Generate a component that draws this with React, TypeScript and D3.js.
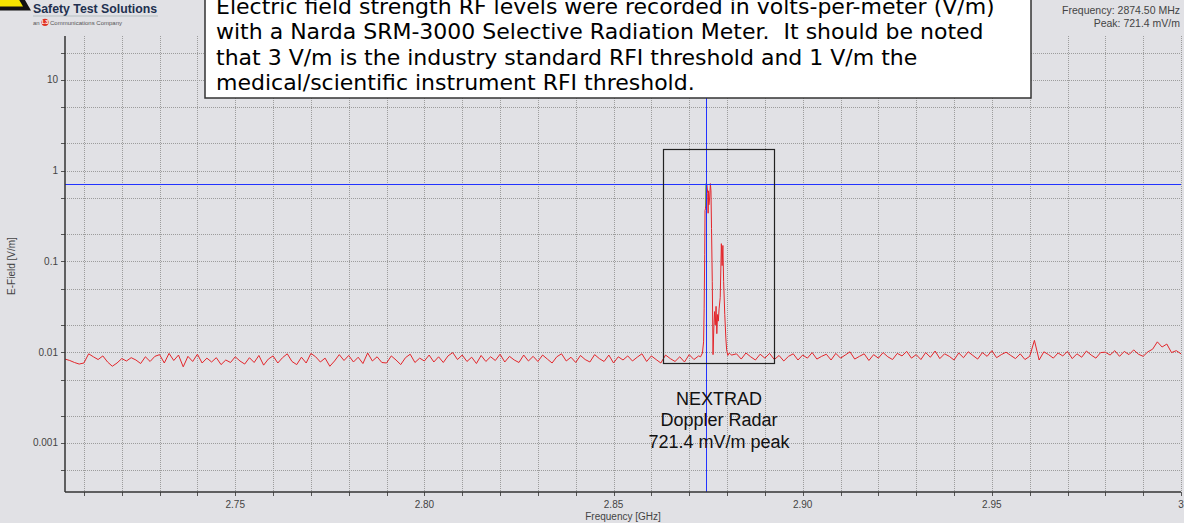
import React from "react";
import * as d3 from "d3";

// ---------- data ----------
const X_DOMAIN: [number, number] = [2.705, 3.0];
const Y_DOMAIN: [number, number] = [0.000288, 30.5];

const xMajorTicks = [2.75, 2.8, 2.85, 2.9, 2.95, 3.0];
const xMajorLabels = ["2.75", "2.80", "2.85", "2.90", "2.95", "3"];
const xMinorTicks = d3.range(271, 301).map((v) => v / 100);

const yMajorTicks = [10, 1, 0.1, 0.01, 0.001];
const yMajorLabels = ["10", "1", "0.1", "0.01", "0.001"];
const yMinorTicks = [20, 5, 2, 0.5, 0.2, 0.05, 0.02, 0.005, 0.002, 0.0005];

// noise floor trace, mV/m, sampled every 1.25 MHz from 2.705 GHz
const NOISE_START = 2.705;
const NOISE_STEP = 0.00125;
const noiseMv = [
  8.4, 8.1, 7.7, 7.4, 7.6, 9.6, 8.9, 8.3, 9.1, 7.8, 7.0, 7.6, 8.5, 8.0, 8.7, 8.2, 7.5, 8.9, 7.9, 9.0,
  9.4, 7.6, 9.7, 8.1, 9.3, 6.9, 9.0, 7.9, 9.5, 7.6, 8.6, 7.8, 8.7, 7.3, 8.2, 7.7, 8.9, 8.0, 7.4, 8.7,
  7.7, 9.2, 7.2, 8.4, 9.1, 7.6, 8.7, 9.6, 7.9, 7.3, 8.8, 7.6, 9.7, 8.9, 7.8, 8.6, 7.0, 8.0, 9.4, 8.1,
  9.2, 7.8, 8.8, 7.5, 9.8, 8.0, 8.9, 7.7, 7.6, 9.1, 8.2, 7.3, 8.7, 9.5, 7.7, 8.6, 8.0, 9.3, 7.8, 8.9,
  7.7, 9.1, 9.9, 8.3, 9.3, 7.9, 8.8, 7.5, 9.2, 7.9, 8.9, 8.1, 9.5, 7.8, 9.0, 8.2, 7.7, 9.3, 8.0, 9.0,
  7.9, 9.3, 8.4, 7.6, 8.9, 9.6, 8.0, 8.8, 7.7, 9.2, 8.3, 7.8, 9.4, 8.5, 7.9, 9.3, 7.6, 8.9, 8.2, 9.1,
  8.0, 8.8, 9.6, 7.9, 9.1, 8.3, 7.6, 9.3, 8.5, 7.9, 8.9, 7.8, 9.4, 8.3, 9.1, 8.0, 8.6, 9.2, 9.6, 8.5,
  8.7, 9.3, 9.6, 8.4, 9.8, 8.9, 8.2, 9.5, 8.6, 9.7, 8.3, 9.2, 8.0, 9.0, 9.6, 8.2, 9.3, 8.6, 9.9, 8.4,
  9.0, 9.5, 8.2, 9.7, 8.6, 9.3, 10.1, 8.4, 9.0, 9.6, 8.1, 9.4, 8.6, 9.9, 8.9, 8.3, 9.7, 9.1, 10.2, 8.6,
  9.4, 8.3, 9.9, 8.8, 10.3, 8.5, 9.6, 9.0, 8.2, 9.8, 8.7, 10.1, 9.2, 8.4, 9.9, 9.0, 10.4, 8.7, 9.4, 10.0,
  9.2, 8.5, 9.6, 8.3, 9.0, 13.5, 8.2, 10.1, 9.4, 8.6, 9.8, 9.1, 10.2, 8.5, 9.6, 8.8, 10.3, 9.3, 8.6, 9.9,
  10.0, 9.3, 10.4, 9.0, 10.2, 9.4, 10.6, 9.5, 9.0, 10.1, 10.8, 13.0, 11.4, 12.3, 9.9, 10.4, 9.6,
];

// radar emission detail, GHz / mV/m
const peakFreq = [
  2.873, 2.8735, 2.8738, 2.87395, 2.8741, 2.87418, 2.8743, 2.87445, 2.87455, 2.8747, 2.8749, 2.875,
  2.8751, 2.8752, 2.8754, 2.8756, 2.87575, 2.8759, 2.8761, 2.8763, 2.8765, 2.8767, 2.8769, 2.8771,
  2.8773, 2.8775, 2.8777, 2.8779, 2.8782, 2.8785, 2.8787, 2.8789, 2.8791, 2.8794, 2.8797, 2.8799,
  2.8802, 2.8806, 2.881,
];
const peakMv = [
  8.9, 9.8, 13, 30, 120, 365, 380, 650, 721.4, 690, 560, 340,
  600, 420, 500, 721, 600, 230, 60, 9.4, 18, 28, 20, 32,
  16, 26, 22, 30, 40, 157, 90, 150, 60, 26, 14, 10.6,
  9.2, 9.8, 9.4,
];

// max-hold highlight at the peak
const holdFreq = [2.8745, 2.8745];
const holdMv = [400, 721.4];

const markerFreq = 2.8745;
const markerLevel = 0.7214;
const boxFreq: [number, number] = [2.8632, 2.8926];
const boxLevel: [number, number] = [0.00768, 1.73];

const noteLines = [
  "Electric field strength RF levels were recorded in volts-per-meter (V/m)",
  "with a Narda SRM-3000 Selective Radiation Meter.  It should be noted",
  "that 3 V/m is the industry standard RFI threshold and 1 V/m the",
  "medical/scientific instrument RFI threshold.",
];
const calloutLines = ["NEXTRAD", "Doppler Radar", "721.4 mV/m peak"];
const headerLines = ["Frequency: 2874.50 MHz", "Peak: 721.4 mV/m"];

// ---------- layout ----------
const W = 1184;
const H = 523;
const L = 65;
const R = 1181;
const T = 36;
const B = 492;
const SANS = "'Liberation Sans', Arial, sans-serif";
const snap = (v: number) => Math.round(v) + 0.5;

export default function App() {
  const x = d3.scaleLinear().domain(X_DOMAIN).range([L, R]);
  const y = d3.scaleLog().domain(Y_DOMAIN).range([B, T]);

  const noisePts: [number, number][] = noiseMv
    .map((v, i) => [NOISE_START + i * NOISE_STEP, v / 1000] as [number, number])
    .filter(([f]) => f < 2.8728 || f > 2.8811);
  const peakPts: [number, number][] = peakFreq.map((f, i) => [f, peakMv[i] / 1000]);
  const all = [...noisePts, ...peakPts].sort((a, b) => a[0] - b[0]);

  const line = d3
    .line<[number, number]>()
    .x((d) => x(d[0]))
    .y((d) => y(d[1]));

  const holdPts: [number, number][] = holdFreq.map((f, i) => [f, holdMv[i] / 1000]);

  const gridColor = "#9c9c9c";
  const my = snap(y(markerLevel));
  const mx = snap(x(markerFreq));

  return (
    <div style={{ position: "absolute", left: 0, top: 0 }}>
      <svg width={W} height={H} style={{ display: "block", background: "#e1e1e5" }}>
        <defs>
          <clipPath id="plot">
            <rect x={L} y={T} width={R - L} height={B - T} />
          </clipPath>
        </defs>

        {/* grid */}
        {xMinorTicks.map((f) => (
          <line key={"gx" + f} x1={snap(x(f))} x2={snap(x(f))} y1={T} y2={B} stroke={gridColor} strokeWidth={1} strokeDasharray="1,1" />
        ))}
        {[...yMajorTicks, ...yMinorTicks].map((v) => (
          <line key={"gy" + v} x1={L} x2={R} y1={snap(y(v))} y2={snap(y(v))} stroke={gridColor} strokeWidth={1} strokeDasharray="1,1" />
        ))}

        {/* axis ticks */}
        {xMinorTicks.map((f) => (
          <line key={"tx" + f} x1={snap(x(f))} x2={snap(x(f))} y1={B} y2={B + 4} stroke="#555" strokeWidth={1} />
        ))}
        {[...yMajorTicks, ...yMinorTicks].map((v) => (
          <line key={"ty" + v} x1={L - 4} x2={L} y1={snap(y(v))} y2={snap(y(v))} stroke="#555" strokeWidth={1} />
        ))}

        {/* trace */}
        <g clipPath="url(#plot)">
          <path d={line(all) || ""} fill="none" stroke="#e3262b" strokeWidth={1} strokeLinejoin="round" />
          <path d={line(holdPts) || ""} fill="none" stroke="#3ccf3c" strokeWidth={1.5} />
          {/* markers */}
          <line x1={L} x2={R} y1={my} y2={my} stroke="#2233ff" strokeWidth={1} />
          <line x1={mx} x2={mx} y1={T} y2={B} stroke="#2233ff" strokeWidth={1} />
          {/* highlight box */}
          <rect
            x={snap(x(boxFreq[0]))}
            y={snap(y(boxLevel[1]))}
            width={Math.round(x(boxFreq[1]) - x(boxFreq[0]))}
            height={Math.round(y(boxLevel[0]) - y(boxLevel[1]))}
            fill="none"
            stroke="#222"
            strokeWidth={1.2}
          />
        </g>

        {/* axes */}
        <line x1={L} x2={L} y1={T} y2={B} stroke="#333" strokeWidth={1.5} />
        <line x1={L} x2={R} y1={B} y2={B} stroke="#333" strokeWidth={1.5} />

        {/* tick labels */}
        {yMajorTicks.map((v, i) => (
          <text key={"ly" + v} x={L - 7} y={y(v) + 3.5} textAnchor="end" fontFamily={SANS} fontSize={10} fill="#444">
            {yMajorLabels[i]}
          </text>
        ))}
        {xMajorTicks.map((f, i) => (
          <text key={"lx" + f} x={x(f)} y={508} textAnchor="middle" fontFamily={SANS} fontSize={10} fill="#444">
            {xMajorLabels[i]}
          </text>
        ))}
        <text x={(L + R) / 2} y={520} textAnchor="middle" fontFamily={SANS} fontSize={10} fill="#444">
          Frequency [GHz]
        </text>
        <text
          transform={`translate(15,266) rotate(-90)`}
          textAnchor="middle"
          fontFamily={SANS}
          fontSize={10}
          fill="#444"
        >
          E-Field [V/m]
        </text>

        {/* callout */}
        {calloutLines.map((t, i) => (
          <text key={"c" + i} x={719} y={404.5 + i * 21.5} textAnchor="middle" fontFamily={SANS} fontSize={18} fill="#111">
            {t}
          </text>
        ))}

        {/* header right */}
        {headerLines.map((t, i) => (
          <text key={"h" + i} x={1180} y={14 + i * 13} textAnchor="end" fontFamily={SANS} fontSize={10.5} fill="#444">
            {t}
          </text>
        ))}

        {/* logo */}
        <g>
          <polygon points="-12,10.5 31,10.5 10,-26" fill="#111" />
          <polygon points="-4,6.5 23,6.5 10,-16" fill="#f5e400" />
          <text x={33} y={-2} fontFamily={SANS} fontWeight="bold" fontSize={12} fill="#22304f">
            Pinnacle
          </text>
          <text x={33} y={12.5} fontFamily={SANS} fontWeight="bold" fontSize={12.3} fill="#22304f">
            Safety Test Solutions
          </text>
          <line x1={33} x2={158} y1={16} y2={16} stroke="#9aa" strokeWidth={0.6} />
          <text x={33} y={24.5} fontFamily={SANS} fontSize={6} fill="#555">
            an
          </text>
          <circle cx={45} cy={22.3} r={3.6} fill="#e03020" />
          <text x={45} y={24.4} textAnchor="middle" fontFamily={SANS} fontWeight="bold" fontSize={5.5} fill="#fff">
            L3
          </text>
          <text x={50} y={24.5} fontFamily={SANS} fontSize={6} fill="#555">
            Communications Company
          </text>
        </g>

        {/* note box */}
        <rect x={205} y={-2} width={826} height={100} fill="#fff" stroke="#333" strokeWidth={1.5} />
        {noteLines.map((t, i) => (
          <text
            key={"n" + i}
            x={216}
            y={14 + i * 25.3}
            fontFamily="'DejaVu Sans', Verdana, sans-serif"
            fontSize={22}
            fill="#000"
            style={{ whiteSpace: "pre" }}
          >
            {t}
          </text>
        ))}
      </svg>
    </div>
  );
}
